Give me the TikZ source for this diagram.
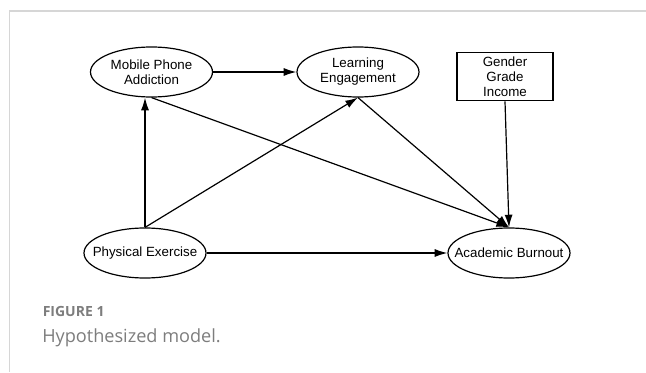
\documentclass[tikz,border=0pt]{standalone}
\usepackage{fontspec}
\setmainfont{Liberation Sans}
\newfontfamily\capfont{Open Sans}
\usetikzlibrary{arrows.meta,shapes.geometric}
\definecolor{framegray}{RGB}{214,214,214}
\definecolor{capgray}{RGB}{125,125,125}

\begin{document}
\begin{tikzpicture}[x=0.75pt, y=0.75pt,
    >={Latex[length=9.5pt,width=6pt]},
    var/.style={ellipse, draw, line width=0.9pt, minimum width=91.5pt,
      minimum height=37.5pt, inner sep=-10pt, align=center,
      font=\fontsize{10}{11.25}\selectfont},
    ctrlbox/.style={rectangle, draw, line width=0.9pt, minimum width=72pt,
      minimum height=36pt, inner sep=0pt, align=center,
      font=\fontsize{10}{11.25}\selectfont},
    path/.style={->, line width=0.9pt}]% Hypothesized model:
  \useasboundingbox (0,0) rectangle (646,372);
  \draw [framegray, line width=1pt] (646,361) -- (9.5,361) -- (9.5,0);

  \node (mpa) at (151.5,300) [var] {Mobile Phone\\Addiction};
  \node (le) at (358,300) [var] {Learning\\Engagement};
  \node (ctrl) at (505,295.3) [ctrlbox] {Gender\\Grade\\Income};
  \node (pe) at (145,119) [var] {Physical Exercise};
  \node (ab) at (509,119) [var] {Academic Burnout};

  \draw [path] (mpa.east) -- (le.west);
  \draw [path] (pe.north) -- (pe.north |- mpa.south);
  \draw [path] (pe.north) -- (le.south);
  \draw [path] (mpa.south) -- (ab.north);
  \draw [path] (le.south) -- (ab.north);
  \draw [path] (ctrl.south) -- (ab.north);
  \draw [path] (pe.east) -- (ab.west);

  \node (fig) at (42.5,56) [anchor=base west, inner sep=0pt, text=capgray,
    font=\capfont\bfseries\fontsize{10.5}{12}\selectfont] {FIGURE 1};
  \node (cap) at (42,29.3) [anchor=base west, inner sep=0pt, text=capgray,
    font=\capfont\fontsize{13.6}{16}\selectfont] {Hypothesized model.};
\end{tikzpicture}
\end{document}
